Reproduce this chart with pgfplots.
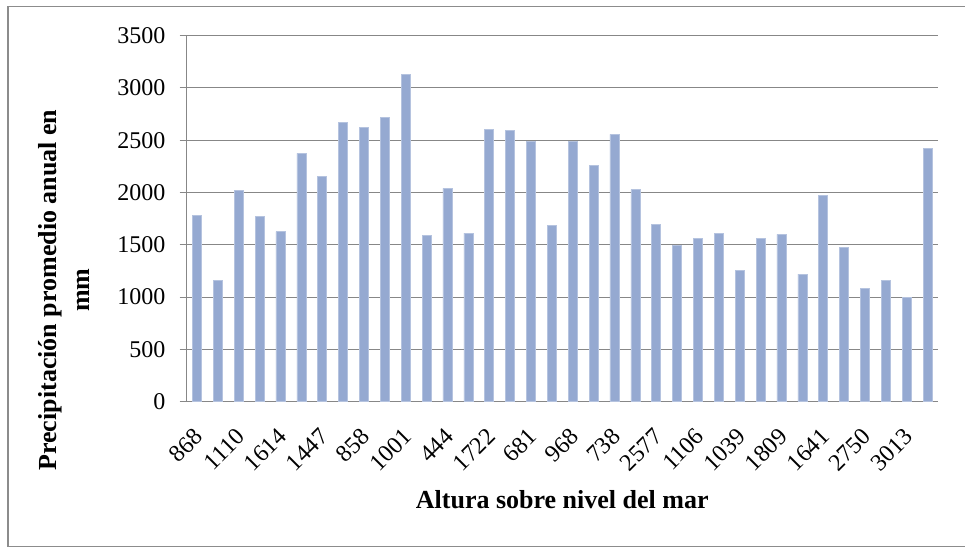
\documentclass[border=0pt]{standalone}
\usepackage{fontspec}
\setmainfont{Liberation Serif}
\usepackage{pgfplots}
\pgfplotsset{compat=1.18}
\definecolor{barblue}{HTML}{95A9D1}
\definecolor{gridgray}{HTML}{878787}
\definecolor{framegray}{HTML}{8C8C8C}
\begin{document}
\begin{tikzpicture}[x=1pt,y=1pt]
\useasboundingbox (0,0) rectangle (965,548);
\fill[white] (0,0) rectangle (965,548);
\draw[framegray,line width=1.8pt] (970,1.5) -- (8,1.5) -- (8,541.5) -- (970,541.5);
\begin{axis}[
  at={(186.5pt,146.3pt)}, anchor=south west,
  scale only axis, width=751.5pt, height=366pt,
  xmin=-0.5, xmax=35.5, ymin=0, ymax=3500,
  ytick={0,500,...,3500},
  xtick={0,2,...,34},
  xticklabels={868,1110,1614,1447,858,1001,444,1722,681,968,738,2577,1106,1039,1809,1641,2750,3013},
  axis x line*=bottom, axis y line*=left,
  axis line style={gridgray, line width=1pt},
  ymajorgrids, grid style={gridgray, line width=1pt},
  tick align=outside, major tick length=7pt,
  ytick style={gridgray, line width=1pt},
  xtick style={draw=none},
  /pgf/number format/assume math mode=true,
  /pgf/number format/1000 sep={},
  yticklabel style={font=\fontsize{24}{28}\selectfont, anchor=east, inner sep=0pt, xshift=-14pt},
  xticklabel style={font=\fontsize{24}{28}\selectfont, inner sep=0pt, xshift=2pt, yshift=-24pt, rotate=45, anchor=east},
  scaled y ticks=false,
  ylabel={Precipitación promedio anual en\\mm},
  ylabel style={at={(axis description cs:-0.1637,0.305)}, anchor=center, align=center, font=\bfseries\fontsize{26}{33}\selectfont},
  xlabel={Altura sobre nivel del mar},
  xlabel style={at={(axis description cs:0.5,-0.2686)}, anchor=center, font=\bfseries\fontsize{26}{30}\selectfont},
  clip=false,
]
\addplot[ybar, bar width=0.43, fill=barblue, draw=barblue!70!white, line width=0.5pt] coordinates {
(0,1782) (1,1157) (2,2018) (3,1769) (4,1626) (5,2375) (6,2152) (7,2668) (8,2620)
(9,2716) (10,3133) (11,1587) (12,2040) (13,1613) (14,2607) (15,2595) (16,2488) (17,1683)
(18,2488) (19,2260) (20,2556) (21,2027) (22,1699) (23,1497) (24,1562) (25,1613) (26,1256)
(27,1562) (28,1600) (29,1221) (30,1970) (31,1476) (32,1087) (33,1160) (34,995) (35,2423)
};
\end{axis}
\end{tikzpicture}
\end{document}
